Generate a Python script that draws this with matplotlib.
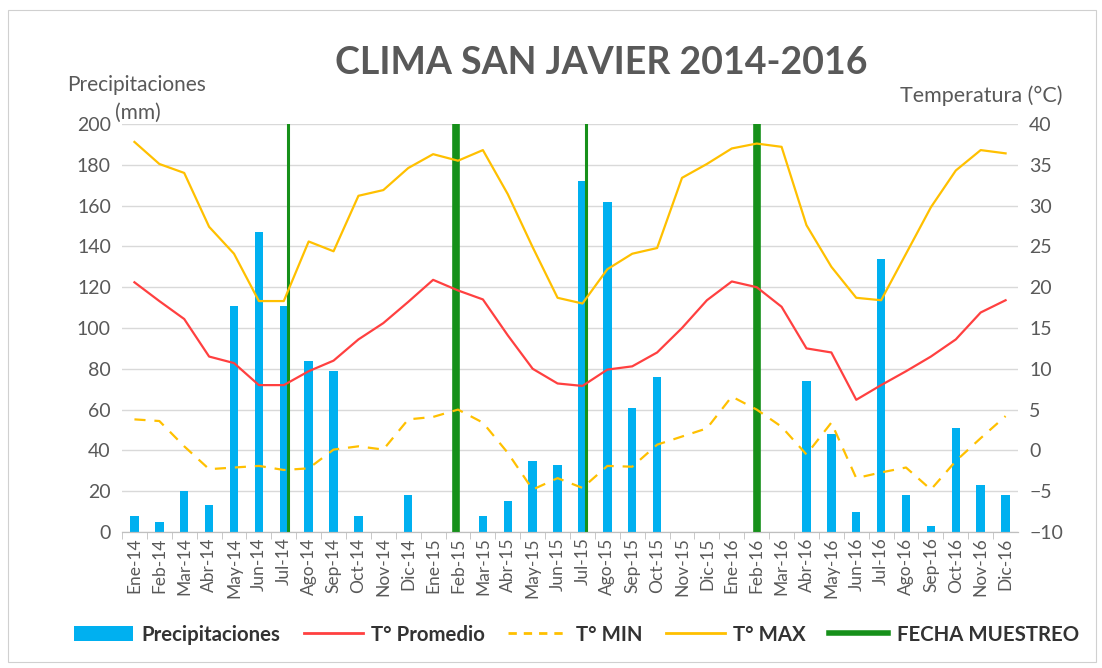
"""
Clima San Javier 2014-2016: monthly precipitation bars with temperature lines
on a secondary axis, and the sampling dates marked as vertical green lines.
"""
import matplotlib
matplotlib.use("Agg")
import matplotlib.pyplot as plt
from matplotlib.lines import Line2D
from matplotlib.patches import Patch, Rectangle

plt.rcParams["font.family"] = ["Lato", "DejaVu Sans"]

MONTHS = ["Ene", "Feb", "Mar", "Abr", "May", "Jun",
          "Jul", "Ago", "Sep", "Oct", "Nov", "Dic"]
LABELS = [f"{m}-{y}" for y in ("14", "15", "16") for m in MONTHS]

PRECIP = [8, 5, 20, 13, 111, 147, 111, 84, 79, 8, 0, 18,
          0, 0, 8, 15, 35, 33, 172, 162, 61, 76, 0, 0,
          0, 0, 0, 74, 48, 10, 134, 18, 3, 51, 23, 18]
T_PROM = [20.6, 18.3, 16.1, 11.5, 10.7, 8.0, 8.0, 9.7, 11.0, 13.6, 15.6, 18.2,
          20.9, 19.6, 18.5, 14.1, 10.0, 8.2, 7.9, 9.9, 10.3, 12.0, 15.0, 18.4,
          20.7, 20.0, 17.6, 12.5, 12.0, 6.2, 8.0, 9.7, 11.5, 13.6, 16.9, 18.4]
T_MIN = [3.8, 3.6, 0.5, -2.3, -2.1, -1.9, -2.4, -2.2, 0.1, 0.5, 0.1, 3.8,
         4.1, 5.0, 3.4, -0.3, -4.8, -3.4, -4.6, -1.9, -2.0, 0.7, 1.7, 2.7,
         6.6, 5.0, 2.9, -0.5, 3.4, -3.4, -2.7, -2.1, -4.8, -1.3, 1.5, 4.2]
T_MAX = [37.8, 35.1, 34.0, 27.4, 24.1, 18.3, 18.3, 25.6, 24.4, 31.2, 31.9, 34.6,
         36.3, 35.5, 36.8, 31.4, 24.9, 18.7, 18.0, 22.2, 24.1, 24.8, 33.4, 35.1,
         37.0, 37.6, 37.2, 27.6, 22.5, 18.7, 18.4, 24.1, 29.8, 34.3, 36.8, 36.4]
# sampling dates (as drawn, slightly off the category centre) and line widths
MUESTREO = ["Jul-14", "Feb-15", "Jul-15", "Feb-16"]
MUESTREO_OFFSET = [0.15, -0.1, 0.15, 0.0]
MUESTREO_LW = [2.2, 5.5, 2.2, 5.5]

C_BAR = "#00B0F0"
C_PROM = "#FF4040"
C_MINMAX = "#FFC000"
C_GREEN = "#16901A"
C_TEXT = "#595959"

fig = plt.figure(figsize=(11.02, 6.68), dpi=100)
fig.patch.set_facecolor("white")
fig.add_artist(Rectangle((0.007, 0.009), 0.988, 0.976, transform=fig.transFigure,
                         fill=False, edgecolor="#d0d0d0", lw=0.8))
ax = fig.add_axes([0.1107, 0.2036, 0.8131, 0.6108])
ax2 = ax.twinx()

x = list(range(len(LABELS)))
ax.bar(x, PRECIP, width=0.34, color=C_BAR, zorder=2)
for lab, off, lw in zip(MUESTREO, MUESTREO_OFFSET, MUESTREO_LW):
    ax.axvline(LABELS.index(lab) + off, color=C_GREEN, lw=lw, zorder=5)

ax2.plot(x, T_PROM, color=C_PROM, lw=1.6)
ax2.plot(x, T_MIN, color=C_MINMAX, lw=1.6, dashes=(5, 4))
ax2.plot(x, T_MAX, color=C_MINMAX, lw=1.6)

ax.set_xlim(-0.5, len(LABELS) - 0.5)
ax.set_ylim(0, 200)
ax.set_yticks(range(0, 201, 20))
ax2.set_ylim(-10, 40)
ax2.set_yticks(range(-10, 41, 5))
ax.grid(axis="y", color="#d9d9d9", lw=1.0, zorder=0)
ax.set_axisbelow(True)

ax.set_xticks(x)
ax.set_xticklabels(LABELS, rotation=90, fontsize=12.5, color=C_TEXT)
ax.set_xticks([i + 0.5 for i in x[:-1]] + [-0.5], minor=True)
ax.tick_params(axis="x", which="major", length=0, pad=4)
ax.tick_params(axis="x", which="minor", length=5, color="#bfbfbf")
ax.tick_params(axis="y", length=0, labelsize=14, labelcolor=C_TEXT, pad=8)
ax2.tick_params(axis="y", length=0, labelsize=14, labelcolor=C_TEXT, pad=8)
for a in (ax, ax2):
    for s in ("top", "left", "right"):
        a.spines[s].set_visible(False)
    a.spines["bottom"].set_color("#bfbfbf")

fig.text(0.546, 0.905, "CLIMA SAN JAVIER 2014-2016", ha="center", va="center",
         fontsize=27, fontweight="bold", color=C_TEXT)
fig.text(0.061, 0.873, "Precipitaciones", ha="left", va="center",
         fontsize=15, color=C_TEXT)
fig.text(0.104, 0.831, "(mm)", ha="left", va="center", fontsize=15, color=C_TEXT)
fig.text(0.964, 0.857, "Temperatura (°C)", ha="right", va="center",
         fontsize=15.5, color=C_TEXT)

handles = [Patch(facecolor=C_BAR, edgecolor="none"),
           Line2D([], [], color=C_PROM, lw=2),
           Line2D([], [], color=C_MINMAX, lw=2, dashes=(3, 2.5)),
           Line2D([], [], color=C_MINMAX, lw=2),
           Line2D([], [], color=C_GREEN, lw=4)]
names = ["Precipitaciones", "T° Promedio", "T° MIN", "T° MAX", "FECHA MUESTREO"]
fig.legend(handles, names, loc="center", bbox_to_anchor=(0.523, 0.05), ncol=5,
           frameon=False, handlelength=2.9, handleheight=0.75,
           columnspacing=1.15, handletextpad=0.4, labelcolor="#333333",
           prop={"weight": "bold", "size": 14.7})

fig.savefig("out.png", dpi=100, facecolor="white")
